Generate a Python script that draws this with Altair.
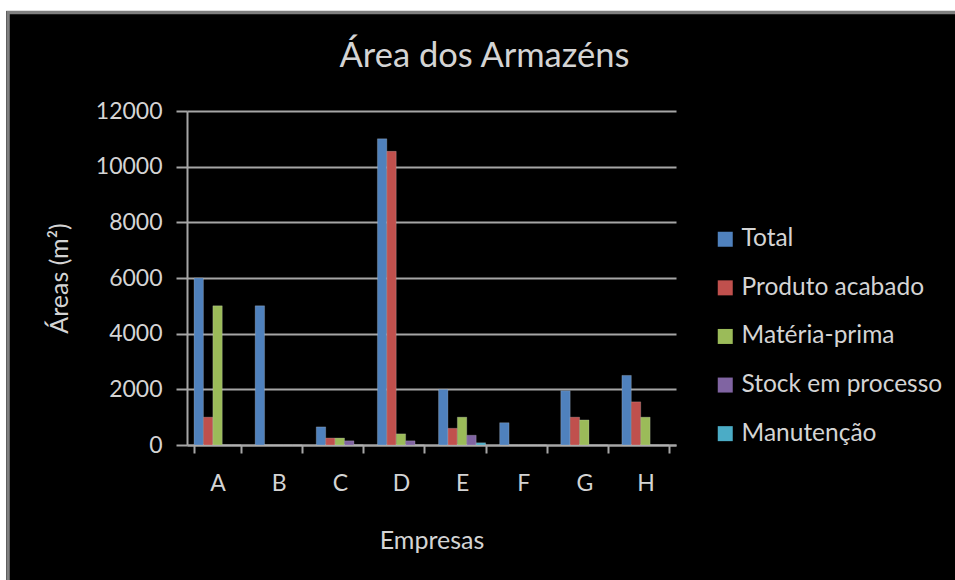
import altair as alt
import pandas as pd

empresas = ["A", "B", "C", "D", "E", "F", "G", "H"]
series = ["Total", "Produto acabado", "Matéria-prima", "Stock em processo", "Manutenção"]
total = [6000, 5000, 650, 11000, 2000, 800, 1950, 2500]
produto = [1000, 0, 250, 10550, 600, 0, 1000, 1550]
materia = [5000, 0, 250, 400, 1000, 0, 900, 1000]
stock = [0, 0, 150, 150, 350, 0, 0, 0]
manut = [0, 0, 0, 0, 80, 0, 0, 0]
y_ticks = [0, 2000, 4000, 6000, 8000, 10000, 12000]
colors = ["#4F81BD", "#C0504D", "#9BBB59", "#8064A2", "#4BACC6"]

rows = []
for s, vals in zip(series, [total, produto, materia, stock, manut]):
    for e, v in zip(empresas, vals):
        rows.append({"Empresa": e, "Série": s, "Área": v})
df = pd.DataFrame(rows)

FONT = "Lato"
TXT = "#d4d4d4"
GRID = "#a6a6a6"

bars = alt.Chart(df).mark_bar(stroke="#dddddd", strokeWidth=0.4, strokeOpacity=0.6).encode(
    x=alt.X("Empresa:N", sort=empresas,
            scale=alt.Scale(paddingInner=0.23, paddingOuter=0.115),
            axis=alt.Axis(title="Empresas", labelAngle=0, tickBand="extent",
                          tickSize=8, labelPadding=19, titlePadding=33,
                          domainColor=GRID, domainWidth=2, tickColor=GRID, tickWidth=2,
                          labelFontSize=23, titleFontSize=25, labelColor=TXT, titleColor=TXT,
                          labelFont=FONT, titleFont=FONT, titleFontWeight="normal")),
    xOffset=alt.XOffset("Série:N", sort=series, scale=alt.Scale(paddingInner=0, paddingOuter=0)),
    y=alt.Y("Área:Q", scale=alt.Scale(domain=[0, 12000], nice=False),
            axis=alt.Axis(title="Áreas (m²)", values=y_ticks, format="d",
                          tickSize=11, labelPadding=14, titlePadding=23,
                          grid=True, gridColor=GRID, gridWidth=2,
                          domainColor=GRID, domainWidth=2, tickColor=GRID, tickWidth=2,
                          labelFontSize=23, titleFontSize=25, labelColor=TXT, titleColor=TXT,
                          labelFont=FONT, titleFont=FONT, titleFontWeight="normal")),
    color=alt.Color("Série:N", sort=series,
                    scale=alt.Scale(domain=series, range=colors),
                    legend=alt.Legend(title=None, orient="none", legendX=526, legendY=116,
                                      symbolType="square", symbolSize=225, symbolStrokeWidth=0,
                                      labelFontSize=24.5, labelFont=FONT, labelColor=TXT,
                                      labelLimit=400, labelOffset=4, rowPadding=23.6, padding=0)),
)

one = pd.DataFrame({"k": [0]})
top_strip = alt.Chart(one).mark_rect(color="white").encode(
    x=alt.value(-187), x2=alt.value(800), y=alt.value(-111), y2=alt.value(-100))
left_strip = alt.Chart(one).mark_rect(color="white").encode(
    x=alt.value(-187), x2=alt.value(-181), y=alt.value(-111), y2=alt.value(480))
frame = alt.Chart(one).mark_rect(fillOpacity=0, stroke="#808080", strokeWidth=3.5).encode(
    x=alt.value(-179), x2=alt.value(900), y=alt.value(-98.5), y2=alt.value(600))

chart = alt.layer(bars, top_strip, left_strip, frame).properties(
    width=489, height=334,
    title=alt.Title("Área dos Armazéns", fontSize=34.5, font=FONT, color=TXT,
                    fontWeight="normal", anchor="middle", frame="group",
                    baseline="alphabetic", offset=0, dy=101, dx=53),
    background="black",
    padding={"left": 187, "top": 111, "right": 279, "bottom": 135},
    autosize=alt.AutoSizeParams(type="none"),
).configure_view(stroke=None)

chart.save("out.html", embed_options={"renderer": "svg", "actions": False})
